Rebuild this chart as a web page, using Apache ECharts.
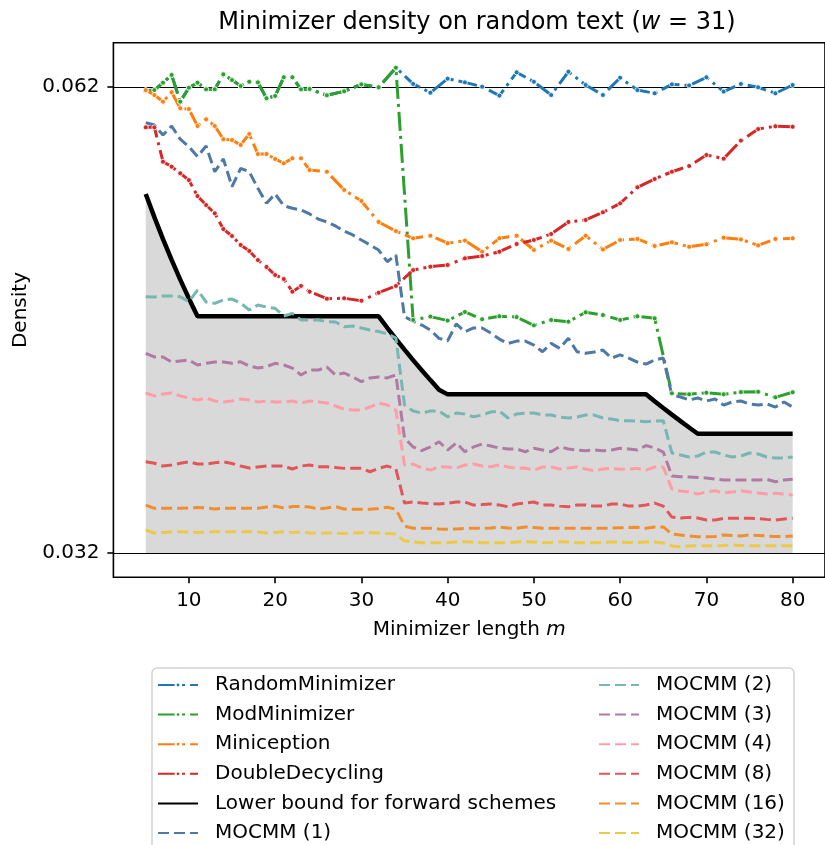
<!DOCTYPE html>
<html>
<head>
<meta charset="utf-8">
<title>Minimizer density on random text</title>
<script src="https://cdn.jsdelivr.net/npm/echarts@6.0.0/dist/echarts.min.js"></script>
<style>
  html, body { margin: 0; padding: 0; background: #fff; }
  #chart { width: 825px; height: 845px; }
</style>
</head>
<body>
<div id="chart"></div>
<script>
// Minimizer lengths sampled for the classic schemes and for MOCMM
const mAlgo = [5, 6, 7, 8, 9, 10, 11, 12, 13, 14, 15, 16, 17, 18, 19, 20, 21, 22, 23, 24,
  26, 28, 30, 32, 34, 36, 38, 40, 42, 44, 46, 48, 50, 52, 54, 56, 58, 60, 62, 64,
  66, 68, 70, 72, 74, 76, 78, 80];
const mMocmm = [5, 6, 7, 8, 9, 10, 11, 12, 13, 14, 15, 16, 17, 18, 19, 20, 21, 22, 23, 24,
  25, 26, 27, 28, 29, 30, 31, 32, 33, 34, 35, 36, 37, 38, 39, 40, 41, 42, 43, 44,
  45, 46, 47, 48, 49, 50, 51, 52, 53, 54, 55, 56, 57, 58, 59, 60, 61, 62, 63, 64,
  65, 66, 67, 68, 69, 70, 71, 72, 73, 74, 75, 76, 77, 78, 79, 80];

// Densities (w = 31)
const randomMinimizer = [0.06226, 0.0623, 0.06278, 0.06328, 0.06155, 0.06245, 0.06278, 0.06235, 0.06235, 0.06332,
  0.06295, 0.06256, 0.06284, 0.0628, 0.06177, 0.06192, 0.06313, 0.06313, 0.06235, 0.06237,
  0.06196, 0.06222, 0.06267, 0.06248, 0.06375, 0.0627, 0.06213, 0.06304, 0.0628, 0.06252,
  0.06194, 0.06345, 0.06284, 0.06198, 0.06349, 0.06263, 0.06198, 0.0631, 0.0623, 0.06209,
  0.06267, 0.0626, 0.06313, 0.0622, 0.0627, 0.06248, 0.06209, 0.06263];
const modMinimizer = [0.06226, 0.0623, 0.06278, 0.06328, 0.06155, 0.06245, 0.06278, 0.06235, 0.06235, 0.06332,
  0.06295, 0.06256, 0.06284, 0.0628, 0.06177, 0.06192, 0.06313, 0.06313, 0.06235, 0.06237,
  0.06196, 0.06222, 0.06267, 0.06248, 0.06375, 0.04738, 0.0476, 0.04734, 0.0479, 0.04743,
  0.04762, 0.04757, 0.04703, 0.04738, 0.04727, 0.04788, 0.0477, 0.04738, 0.04762, 0.04749,
  0.04262, 0.04256, 0.04266, 0.04256, 0.0427, 0.04272, 0.04236, 0.04269];
const miniception = [0.0623, 0.06198, 0.06155, 0.06216, 0.06112, 0.06107, 0.05997, 0.0604, 0.05997, 0.05911,
  0.05906, 0.05874, 0.05945, 0.05815, 0.05815, 0.05783, 0.05755, 0.05787, 0.05787, 0.05711,
  0.0570, 0.05582, 0.0551, 0.05374, 0.05315, 0.05268, 0.05285, 0.05236, 0.05253, 0.05181,
  0.05268, 0.05285, 0.05192, 0.05253, 0.05199, 0.05285, 0.05196, 0.05257, 0.05264, 0.05218,
  0.05242, 0.05213, 0.05229, 0.05272, 0.05261, 0.05222, 0.05264, 0.05268];
const doubleDecycling = [0.05988, 0.05988, 0.05765, 0.05733, 0.0569, 0.05646, 0.05542, 0.05484, 0.0543, 0.05328,
  0.05283, 0.05225, 0.05186, 0.05127, 0.05082, 0.0503, 0.05004, 0.04922, 0.04959, 0.04922,
  0.04876, 0.04879, 0.04863, 0.04915, 0.04959, 0.05062, 0.05084, 0.05095, 0.05138, 0.05153,
  0.05181, 0.05231, 0.05257, 0.05296, 0.05374, 0.05387, 0.05437, 0.05495, 0.05599, 0.05653,
  0.057, 0.05737, 0.05809, 0.05785, 0.05902, 0.05977, 0.05995, 0.05992];

// Lower bound for forward schemes, at its break points
const lbM = [5, 6, 7, 8, 9, 10, 11, 32, 33, 34, 35, 36, 37, 38, 39, 40, 63, 64, 65, 66, 67, 68, 69, 80];
const lowerBound = [0.055556, 0.054054, 0.052632, 0.051282, 0.05, 0.04878, 0.047619, 0.047619,
  0.046875, 0.046154, 0.045455, 0.044776, 0.044118, 0.043478, 0.042857, 0.042553, 0.042553,
  0.042105, 0.041667, 0.041237, 0.040816, 0.040404, 0.04, 0.04];
const densityFloor = 0.032258; // 1/w

const mocmm1 = [0.06018, 0.06003, 0.05938, 0.05997, 0.05911, 0.05863, 0.05798, 0.05867, 0.0570, 0.05783,
  0.05603, 0.05722, 0.0570, 0.05593, 0.05495, 0.05556, 0.0548, 0.05463, 0.05452, 0.05426,
  0.05393, 0.05374, 0.05348, 0.05315, 0.0529, 0.05257, 0.05225, 0.05192, 0.05116, 0.0516,
  0.04759, 0.04731, 0.04705, 0.04673, 0.04619, 0.04603, 0.04712, 0.04662, 0.04686, 0.04686,
  0.04653, 0.04614, 0.04586, 0.04601, 0.04601, 0.04575, 0.04532, 0.04586, 0.04554, 0.04619,
  0.04532, 0.04522, 0.0453, 0.04543, 0.04491, 0.04511, 0.04491, 0.04465, 0.04452, 0.04478,
  0.04491, 0.0425, 0.04238, 0.04219, 0.04232, 0.04212, 0.04225, 0.04186, 0.04206, 0.04212,
  0.04193, 0.04186, 0.04193, 0.04173, 0.04206, 0.04173];
const mocmm2 = [0.04889, 0.04887, 0.04894, 0.04894, 0.04889, 0.04857, 0.04932, 0.04855, 0.04846, 0.04868,
  0.04874, 0.04848, 0.04803, 0.04835, 0.04822, 0.04814, 0.04764, 0.04781, 0.04738, 0.04738,
  0.04738, 0.04727, 0.04725, 0.04694, 0.04699, 0.04686, 0.04673, 0.04663, 0.04647, 0.04621,
  0.04186, 0.04147, 0.04134, 0.04147, 0.04147, 0.0411, 0.04134, 0.04128, 0.0411, 0.04121,
  0.04141, 0.04147, 0.04102, 0.04128, 0.04134, 0.04134, 0.04121, 0.04121, 0.04108, 0.04102,
  0.04108, 0.04121, 0.04121, 0.04102, 0.04095, 0.04084, 0.04084, 0.04082, 0.04078, 0.04082,
  0.04084, 0.03875, 0.03862, 0.03849, 0.03855, 0.03881, 0.03881, 0.03862, 0.03849, 0.03855,
  0.03875, 0.03868, 0.03849, 0.03842, 0.03842, 0.03849];
const mocmm3 = [0.04522, 0.04498, 0.04498, 0.04465, 0.04472, 0.04478, 0.04446, 0.04457, 0.04465, 0.04465,
  0.04457, 0.04467, 0.04439, 0.04426, 0.04435, 0.04457, 0.04446, 0.04426, 0.04381, 0.04413,
  0.04413, 0.04433, 0.04381, 0.04394, 0.04368, 0.04338, 0.04362, 0.04368, 0.04362, 0.04381,
  0.03972, 0.03914, 0.0389, 0.03914, 0.03948, 0.03894, 0.0394, 0.03883, 0.03914, 0.03933,
  0.0392, 0.03907, 0.03901, 0.03901, 0.03883, 0.03905, 0.03894, 0.03883, 0.03916, 0.03901,
  0.03894, 0.0389, 0.03894, 0.0389, 0.03894, 0.03905, 0.03901, 0.03894, 0.03923, 0.03907,
  0.03881, 0.03725, 0.03721, 0.03719, 0.03716, 0.03712, 0.03706, 0.03699, 0.03699, 0.03699,
  0.03699, 0.03699, 0.03704, 0.03688, 0.03699, 0.03704];
const mocmm4 = [0.04264, 0.04245, 0.04258, 0.04264, 0.04245, 0.04232, 0.04219, 0.04232, 0.04212, 0.04206,
  0.04212, 0.04225, 0.04219, 0.04206, 0.04212, 0.04206, 0.04206, 0.04212, 0.04199, 0.04212,
  0.04206, 0.04199, 0.0418, 0.0416, 0.04154, 0.04154, 0.04173, 0.04199, 0.04186, 0.04154,
  0.03797, 0.03803, 0.03777, 0.03764, 0.03786, 0.03784, 0.03777, 0.03797, 0.03803, 0.0379,
  0.03786, 0.03797, 0.03784, 0.03775, 0.03777, 0.03764, 0.03784, 0.03784, 0.03771, 0.03777,
  0.03784, 0.03771, 0.0376, 0.03771, 0.03775, 0.03769, 0.03771, 0.03775, 0.03764, 0.03784,
  0.03784, 0.03641, 0.03628, 0.03622, 0.03609, 0.03622, 0.0363, 0.03615, 0.03622, 0.0363,
  0.03622, 0.03615, 0.03609, 0.03613, 0.03609, 0.03602];
const mocmm8 = [0.03818, 0.03808, 0.0379, 0.03797, 0.03808, 0.03818, 0.03803, 0.03803, 0.03811, 0.03818,
  0.03807, 0.0379, 0.03777, 0.03784, 0.0379, 0.0379, 0.0379, 0.03771, 0.0379, 0.03797,
  0.03786, 0.03786, 0.03781, 0.03775, 0.03775, 0.03775, 0.03753, 0.03775, 0.0379, 0.03771,
  0.0355, 0.03557, 0.0355, 0.03547, 0.03544, 0.03548, 0.03557, 0.03557, 0.03537, 0.0354,
  0.03544, 0.03537, 0.03526, 0.03544, 0.0355, 0.03557, 0.03537, 0.03537, 0.0353, 0.03526,
  0.03537, 0.03537, 0.0353, 0.0353, 0.03544, 0.03544, 0.0353, 0.0353, 0.03537, 0.0355,
  0.0353, 0.03459, 0.03453, 0.03457, 0.03453, 0.0344, 0.0344, 0.03451, 0.03451, 0.03451,
  0.03451, 0.0345, 0.03444, 0.0344, 0.03446, 0.03451];
const mocmm16 = [0.03537, 0.03516, 0.03516, 0.03516, 0.03516, 0.03518, 0.03521, 0.03518, 0.03511, 0.03516,
  0.03516, 0.03516, 0.03516, 0.03516, 0.03524, 0.0353, 0.03518, 0.03527, 0.03527, 0.03524,
  0.03511, 0.03518, 0.03527, 0.03511, 0.0351, 0.0351, 0.0351, 0.03515, 0.03523, 0.0351,
  0.03401, 0.03386, 0.03386, 0.03386, 0.03382, 0.0338, 0.03382, 0.03386, 0.03386, 0.03386,
  0.03388, 0.03393, 0.03388, 0.03386, 0.03395, 0.03391, 0.03386, 0.03386, 0.03386, 0.03386,
  0.03386, 0.03386, 0.03386, 0.03386, 0.03388, 0.0339, 0.03391, 0.03393, 0.03386, 0.03395,
  0.03395, 0.03349, 0.03343, 0.03336, 0.03332, 0.03332, 0.03333, 0.03343, 0.0334, 0.03336,
  0.03343, 0.0334, 0.03336, 0.03333, 0.03332, 0.03336];
const mocmm32 = [0.03375, 0.03355, 0.03359, 0.03362, 0.03364, 0.03362, 0.03359, 0.03362, 0.03364, 0.03364,
  0.03364, 0.03364, 0.03365, 0.03362, 0.03355, 0.03359, 0.03364, 0.03359, 0.03362, 0.03355,
  0.03353, 0.03355, 0.03355, 0.03353, 0.03355, 0.03357, 0.03357, 0.03355, 0.03353, 0.03349,
  0.03303, 0.03297, 0.03293, 0.03293, 0.03293, 0.03293, 0.03297, 0.03299, 0.03297, 0.03293,
  0.03293, 0.03293, 0.03293, 0.03297, 0.03299, 0.03297, 0.03293, 0.03294, 0.03299, 0.03297,
  0.03293, 0.03293, 0.03293, 0.03294, 0.03297, 0.03297, 0.03294, 0.03294, 0.03297, 0.03297,
  0.03291, 0.03271, 0.03267, 0.03271, 0.03273, 0.03273, 0.03273, 0.03275, 0.03278, 0.03275,
  0.03273, 0.03273, 0.03273, 0.03273, 0.03273, 0.03273];

// Axis ticks (also the two reference densities 2/(w+1) and 1/w)
const xTicks = [10, 20, 30, 40, 50, 60, 70, 80];
const yTicks = [0.0625, 0.032258];
const yTickLabels = ['0.062', '0.032'];

const FONT = 'DejaVu Sans';
const zip = (xs, ys) => xs.map((x, i) => [x, ys[i]]);

const DASH_DOT = [19, 5, 3, 5];
const DASHED = [11, 5];

function schemeSeries(name, color, xs, ys) {
  return {
    name, type: 'line', data: zip(xs, ys),
    symbol: 'circle', symbolSize: 5, showSymbol: true,
    itemStyle: { color, borderColor: '#fff', borderWidth: 0.8 },
    lineStyle: { color, width: 3, type: DASH_DOT },
    emphasis: { disabled: true }
  };
}
function mocmmSeries(name, color, ys) {
  return {
    name, type: 'line', data: zip(mMocmm, ys),
    symbol: 'none',
    itemStyle: { color },
    lineStyle: { color, width: 3, type: DASHED },
    emphasis: { disabled: true }
  };
}

const series = [
  schemeSeries('RandomMinimizer', '#1f77b4', mAlgo, randomMinimizer),
  schemeSeries('ModMinimizer', '#2ca02c', mAlgo, modMinimizer),
  schemeSeries('Miniception', '#ff7f0e', mAlgo, miniception),
  schemeSeries('DoubleDecycling', '#d62728', mAlgo, doubleDecycling),
  {
    name: 'Lower bound for forward schemes', type: 'line', data: zip(lbM, lowerBound),
    symbol: 'none',
    itemStyle: { color: '#000' },
    lineStyle: { color: '#000', width: 4.5 },
    areaStyle: { color: 'rgba(128,128,128,0.3)', opacity: 1, origin: densityFloor },
    emphasis: { disabled: true }
  },
  mocmmSeries('MOCMM (1)', '#4e79a7', mocmm1),
  mocmmSeries('MOCMM (2)', '#76b7b2', mocmm2),
  mocmmSeries('MOCMM (3)', '#b07aa1', mocmm3),
  mocmmSeries('MOCMM (4)', '#ff9da7', mocmm4),
  mocmmSeries('MOCMM (8)', '#e15759', mocmm8),
  mocmmSeries('MOCMM (16)', '#f28e2b', mocmm16),
  mocmmSeries('MOCMM (32)', '#edc948', mocmm32)
];

const noSymbol = { color: 'rgba(0,0,0,0)', borderWidth: 0 };
const leftNames = ['RandomMinimizer', 'ModMinimizer', 'Miniception', 'DoubleDecycling',
  'Lower bound for forward schemes', 'MOCMM (1)'];
const rightNames = ['MOCMM (2)', 'MOCMM (3)', 'MOCMM (4)', 'MOCMM (8)', 'MOCMM (16)', 'MOCMM (32)'];
const legendItem = n => (n.startsWith('MOCMM') || n.startsWith('Lower'))
  ? { name: n, itemStyle: noSymbol } : { name: n };

const legendBase = {
  orient: 'vertical', top: 675, padding: 0,
  itemWidth: 40, itemHeight: 6, itemGap: 9.6,
  selectedMode: false,
  textStyle: { fontFamily: FONT, fontSize: 20, color: '#000', lineHeight: 20, padding: [0, 0, 0, 12] }
};

const option = {
  animation: false,
  backgroundColor: '#fff',
  title: {
    text: 'Minimizer density on random text ({i|w} = 31)',
    left: 472, top: 6, textAlign: 'center',
    textStyle: {
      fontFamily: FONT, fontSize: 24, fontWeight: 'normal', color: '#000',
      rich: { i: { fontFamily: FONT, fontSize: 24, fontStyle: 'italic', color: '#000' } }
    }
  },
  grid: {
    left: 113.4, top: 42.8, width: 717, height: 534.5,
    show: true, borderColor: '#000', borderWidth: 1.6, backgroundColor: 'rgba(0,0,0,0)'
  },
  xAxis: {
    type: 'value', min: 1.25, max: 83.75,
    axisLine: { show: false },
    axisTick: { show: true, length: 6, customValues: xTicks, lineStyle: { color: '#000', width: 1.6 } },
    axisLabel: { customValues: xTicks, fontFamily: FONT, fontSize: 20, color: '#000', margin: 13 },
    splitLine: { show: false },
    name: 'Minimizer length {i|m}', nameLocation: 'middle', nameGap: 42,
    nameTextStyle: {
      fontFamily: FONT, fontSize: 20, color: '#000',
      rich: { i: { fontFamily: FONT, fontSize: 20, fontStyle: 'italic', color: '#000' } }
    }
  },
  yAxis: {
    type: 'value', min: 0.030681, max: 0.065368,
    axisLine: { show: false },
    axisTick: { show: true, length: 6, customValues: yTicks, lineStyle: { color: '#000', width: 1.6 } },
    axisLabel: {
      customValues: yTicks, fontFamily: FONT, fontSize: 20, color: '#000', margin: 14,
      formatter: v => yTickLabels[yTicks.indexOf(v)] ?? ''
    },
    splitLine: { show: true, lineStyle: { color: '#000', width: 1.1, type: 'solid' } },
    name: 'Density', nameLocation: 'middle', nameGap: 70, nameRotate: 90,
    nameTextStyle: { fontFamily: FONT, fontSize: 20, color: '#000' }
  },
  legend: [
    Object.assign({}, legendBase, { left: 157, data: leftNames.map(legendItem) }),
    Object.assign({}, legendBase, { left: 598, data: rightNames.map(legendItem) })
  ],
  graphic: [{
    type: 'rect', z: 0, silent: true,
    shape: { x: 152, y: 668, width: 642, height: 200, r: 5 },
    style: { fill: '#fff', stroke: '#d2d2d2', lineWidth: 1.5 }
  }],
  series
};

const chart = echarts.init(document.getElementById('chart'), null, { renderer: 'canvas' });
chart.setOption(option);
</script>
</body>
</html>
